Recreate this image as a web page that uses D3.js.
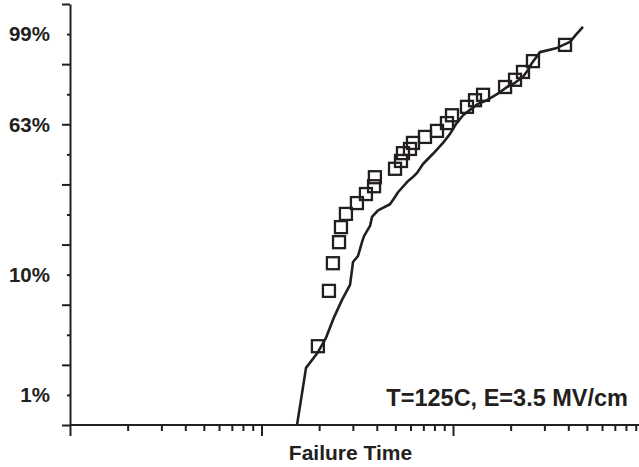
<!DOCTYPE html>
<html>
<head>
<meta charset="utf-8">
<script src="https://cdn.jsdelivr.net/npm/d3@7"></script>
<style>
  body { margin: 0; background: #fff; }
  svg { display: block; }
  text { font-family: "Liberation Sans", Arial, sans-serif; font-weight: bold; fill: #231f20; }
</style>
</head>
<body>
<div id="chart"></div>
<script>
// measured failure times (arbitrary units) and Weibull plotting position ln(-ln(1-F))
const pointTimes = [19.7, 22.5, 23.6, 25.4, 26.0, 27.6, 31.5, 35.1, 38.7, 39.1, 49.8, 53.5, 54.8, 59.6,
  61.8, 71.4, 82.5, 93.0, 98.8, 118.3, 130.3, 143.5, 187, 210.8, 232, 261.6, 384.5];
const pointW = [-3.69, -2.77, -2.31, -1.96, -1.71, -1.49, -1.31, -1.16, -1.03, -0.88, -0.74, -0.61, -0.48, -0.41,
  -0.31, -0.21, -0.11, 0.02, 0.15, 0.29, 0.40, 0.49, 0.62, 0.74, 0.87, 1.05, 1.32];

// model / reference curve
const curveTimes = [15.33, 17.08, 19.72, 21.72, 23.91, 26.33, 28.99, 29.69, 30.05, 31.91, 33.48, 34.30, 36.87,
  37.76, 40.59, 46.88, 49.79, 51.62, 57.53, 61.08, 64.86, 69.71, 78.63, 88.65, 96.46, 103.7, 112.8, 122.7,
  135.1, 150.5, 169.8, 191.4, 210.8, 232.0, 246.4, 258.5, 284.6, 349.2, 408.3, 438.8, 477.3];
const curveW = [-5.0, -4.05, -3.79, -3.55, -3.21, -2.92, -2.67, -2.42, -2.29, -2.19, -1.96, -1.86, -1.69,
  -1.54, -1.43, -1.33, -1.21, -1.13, -0.96, -0.89, -0.81, -0.66, -0.49, -0.31, -0.16, 0.005, 0.15, 0.24,
  0.34, 0.40, 0.50, 0.62, 0.69, 0.79, 0.90, 1.02, 1.20, 1.27, 1.37, 1.49, 1.62];

// axis ticks
const yMajorTicks = [-5, -4, -3, -2, -1, 0, 1, 2];
const yMinorTicks = [-4.5, -3.5, -2.5, -1.5, -0.5, 0.5, 1.5];
const yLabelValues = [1.5, 0, -2.5, -4.5];
const yLabelTexts = ["99%", "63%", "10%", "1%"];
const xDecades = [1, 10, 100];
const xMinorTicks = [2, 3, 4, 5, 6, 7, 8, 9, 20, 30, 40, 50, 60, 70, 80, 90, 200, 300, 400, 500, 600, 700, 800, 900];

const W = 639, H = 467;
const ink = "#231f20";

const svg = d3.select("#chart")
    .append("svg")
    .attr("width", W)
    .attr("height", H);

const x = d3.scaleLog()
    .domain([1, 1000])
    .range([70, 644.5]);

const y = d3.scaleLinear()
    .domain([-5, 2])
    .range([425, 4]);

// x axis: long ticks on decades, short ones in between
svg.append("g")
    .attr("transform", `translate(0, ${y(-5)})`)
    .call(d3.axisBottom(x).tickValues(xMinorTicks).tickSize(6).tickSizeOuter(0).tickFormat(""))
    .call(g => g.select(".domain").remove());
svg.append("g")
    .attr("transform", `translate(0, ${y(-5)})`)
    .call(d3.axisBottom(x).tickValues(xDecades).tickSize(11).tickSizeOuter(0).tickFormat(""))
    .call(g => g.select(".domain").remove());
svg.append("line")
    .attr("x1", x(1)).attr("x2", W)
    .attr("y1", y(-5)).attr("y2", y(-5));

// y axis
svg.append("g")
    .attr("transform", `translate(${x(1)}, 0)`)
    .call(d3.axisLeft(y).tickValues(yMinorTicks).tickSize(3).tickSizeOuter(0).tickFormat(""))
    .call(g => g.select(".domain").remove());
svg.append("g")
    .attr("transform", `translate(${x(1)}, 0)`)
    .call(d3.axisLeft(y).tickValues(yMajorTicks).tickSize(8).tickSizeOuter(0).tickFormat(""));

svg.selectAll(".tick line, .domain, line")
    .attr("stroke", ink)
    .attr("stroke-width", 2);

svg.selectAll(".ylab")
    .data(yLabelValues)
    .enter()
    .append("text")
        .attr("class", "ylab")
        .attr("x", 50)
        .attr("y", d => y(d))
        .attr("dy", "0.36em")
        .attr("text-anchor", "end")
        .style("font-size", "20.5px")
        .text((d, i) => yLabelTexts[i]);

// curve
const curve = curveTimes.map((t, i) => [t, curveW[i]]);
svg.append("path")
    .datum(curve)
    .attr("fill", "none")
    .attr("stroke", ink)
    .attr("stroke-width", 2.6)
    .attr("stroke-linejoin", "round")
    .attr("d", d3.line().x(d => x(d[0])).y(d => y(d[1])));

// open square markers
const s = 12;
svg.append("g")
    .selectAll("rect")
    .data(pointTimes.map((t, i) => [t, pointW[i]]))
    .enter()
    .append("rect")
        .attr("x", d => x(d[0]) - s / 2)
        .attr("y", d => y(d[1]) - s / 2)
        .attr("width", s)
        .attr("height", s)
        .attr("fill", "none")
        .attr("stroke", ink)
        .attr("stroke-width", 2.3);

// labels
svg.append("text")
    .attr("x", 350.5)
    .attr("y", 460)
    .attr("text-anchor", "middle")
    .style("font-size", "21px")
    .text("Failure Time");

svg.append("text")
    .attr("x", 628)
    .attr("y", 406)
    .attr("text-anchor", "end")
    .style("font-size", "23.5px")
    .text("T=125C, E=3.5 MV/cm");
</script>
</body>
</html>
